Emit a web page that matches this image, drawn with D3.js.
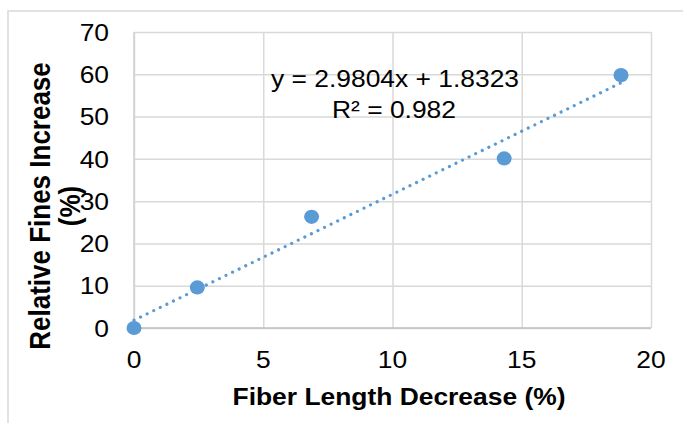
<!DOCTYPE html>
<html>
<head>
<meta charset="utf-8">
<script src="https://cdn.jsdelivr.net/npm/d3@7"></script>
<style>
  html, body { margin: 0; padding: 0; background: #fff; }
  svg { display: block; font-family: "Liberation Sans", Arial, sans-serif; }
</style>
</head>
<body>
<svg id="chart" width="683" height="423"></svg>
<script>
// ---- data ----
const xValues = [0, 2.45, 6.87, 14.32, 18.84];
const yValues = [0, 9.6, 26.3, 40.1, 59.8];
const xTicks = [0, 5, 10, 15, 20];
const yTicks = [0, 10, 20, 30, 40, 50, 60, 70];
const trendSlope = 2.9804;
const trendIntercept = 1.8323;
const equationLines = ["y = 2.9804x + 1.8323", "R\u00B2 = 0.982"];
const xTitle = "Fiber Length Decrease (%)";
const yTitleLines = ["Relative Fines Increase", "(%)"];

// ---- layout ----
const W = 683, H = 423;
const plot = { left: 134, right: 651, top: 32, bottom: 328 };
const SX = 1.1; // horizontal stretch of the source image
const blue = "#5B9BD5";
const grid = "#D9D9D9";

const svg = d3.select("#chart");
const x = d3.scaleLinear().domain([0, 20]).range([plot.left, plot.right]);
const y = d3.scaleLinear().domain([0, 70]).range([plot.bottom, plot.top]);

// outer chart border (only top/left visible)
svg.append("path")
  .attr("d", `M8,${H} L8,11 L${W},11`)
  .attr("fill", "none").attr("stroke", grid).attr("stroke-width", 1.5);

// gridlines
const yAxis = d3.axisLeft(y).tickValues(yTicks)
  .tickSize(-(plot.right - plot.left)).tickFormat("");
svg.append("g").attr("transform", `translate(${plot.left},0)`).call(yAxis)
  .call(g => g.select(".domain").remove())
  .call(g => g.selectAll("line").attr("stroke", grid).attr("stroke-width", 1.5));

const xAxis = d3.axisBottom(x).tickValues(xTicks)
  .tickSize(-(plot.bottom - plot.top)).tickFormat("");
svg.append("g").attr("transform", `translate(0,${plot.bottom})`).call(xAxis)
  .call(g => g.select(".domain").remove())
  .call(g => g.selectAll("line").attr("stroke", grid).attr("stroke-width", 1.5));

// axis lines
svg.append("line").attr("x1", x(0)).attr("x2", x(20)).attr("y1", y(0)).attr("y2", y(0))
  .attr("stroke", "#BFBFBF").attr("stroke-width", 1.5);
svg.append("line").attr("x1", x(0)).attr("x2", x(0)).attr("y1", y(0)).attr("y2", y(70))
  .attr("stroke", "#D0D0D0").attr("stroke-width", 1.5);

// helper for stretched text
function stretchedText(parent, tx, ty, str, opts) {
  const t = parent.append("text")
    .attr("transform", `translate(${tx},${ty}) scale(${SX},1)` + (opts.rotate ? ` rotate(${opts.rotate})` : ""))
    .attr("x", 0).attr("y", 0)
    .attr("text-anchor", opts.anchor || "middle")
    .attr("font-size", opts.size || 24)
    .attr("font-weight", opts.weight || "normal")
    .attr("fill", "#000")
    .text(str);
  if (opts.dy) t.attr("dy", opts.dy);
  return t;
}

// tick labels
yTicks.forEach(v => stretchedText(svg, 109, y(v), v, { anchor: "end", dy: "0.36em" }));
xTicks.forEach(v => stretchedText(svg, x(v), 368, v, { anchor: "middle" }));

// trendline (dotted)
const xMax = d3.max(xValues);
const trend = [0, xMax].map(v => [x(v), y(trendSlope * v + trendIntercept)]);
svg.append("path")
  .attr("d", d3.line()(trend))
  .attr("fill", "none").attr("stroke", blue).attr("stroke-width", 3.2)
  .attr("stroke-linecap", "round").attr("stroke-dasharray", "0.01 7.3");

// points
svg.append("g").selectAll("ellipse").data(xValues.map((v, i) => [v, yValues[i]]))
  .join("ellipse")
  .attr("cx", d => x(d[0])).attr("cy", d => y(d[1]))
  .attr("rx", 7.5).attr("ry", 7.1)
  .attr("fill", blue);

// equation
stretchedText(svg, 395, 87, equationLines[0], { size: 24 });
stretchedText(svg, 394, 118, equationLines[1], { size: 24 });

// axis titles
stretchedText(svg, 399, 405, xTitle, { weight: "bold", size: 24 });
stretchedText(svg, 50, 206, yTitleLines[0], { weight: "bold", size: 26, rotate: -90 });
stretchedText(svg, 80, 206, yTitleLines[1], { weight: "bold", size: 26, rotate: -90 });
</script>
</body>
</html>
